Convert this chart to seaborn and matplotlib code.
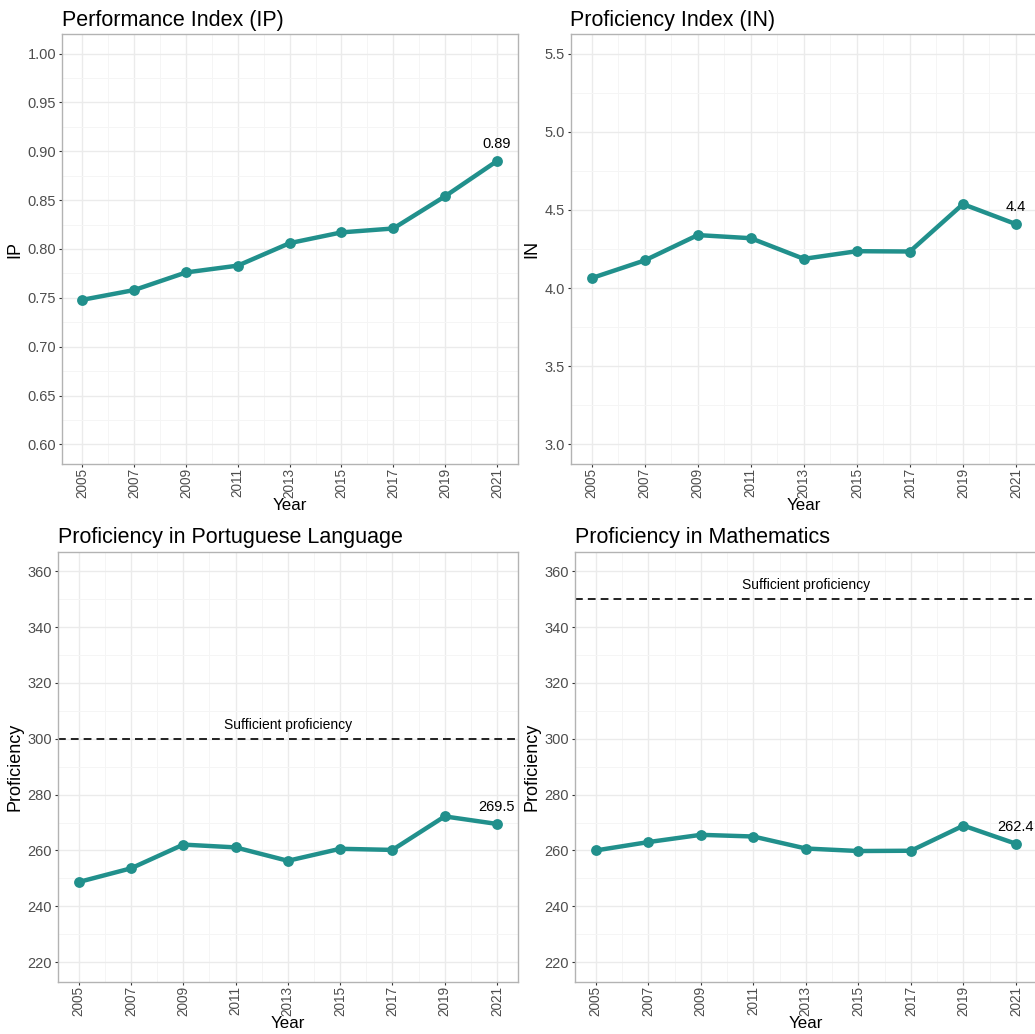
import matplotlib
matplotlib.use("Agg")
import matplotlib.pyplot as plt
from matplotlib.ticker import MultipleLocator, FixedLocator
import seaborn as sns
import pandas as pd

sns.set_theme(style="white")
plt.rcParams["font.family"] = ["Liberation Sans", "DejaVu Sans"]

years = [2005, 2007, 2009, 2011, 2013, 2015, 2017, 2019, 2021]
ip_values = [0.748, 0.758, 0.776, 0.783, 0.806, 0.817, 0.821, 0.854, 0.890]
in_values = [4.064, 4.177, 4.339, 4.319, 4.187, 4.236, 4.234, 4.537, 4.409]
port_values = [248.7, 253.6, 262.1, 261.1, 256.3, 260.6, 260.2, 272.2, 269.5]
math_values = [260.0, 263.0, 265.6, 265.0, 260.7, 259.8, 259.9, 268.9, 262.4]

ip_label = "0.89"
in_label = "4.4"
port_label = "269.5"
math_label = "262.4"

port_threshold = 300
math_threshold = 350
threshold_text = "Sufficient proficiency"

LINE_COLOR = "#21908C"
W, H = 1035, 1034

fig = plt.figure(figsize=(W / 100, H / 100), dpi=100)
fig.patch.set_facecolor("white")


def make_axes(left, right, top, bottom):
    return fig.add_axes([left / W, 1 - bottom / H, (right - left) / W, (bottom - top) / H])


def style_axes(ax, ymin, ymax, ystep, fmt, title, ylabel):
    ax.set_facecolor("white")
    ax.set_xlim(2004.2, 2021.8)
    pad = (ymax - ymin) * 0.05
    ax.set_ylim(ymin - pad, ymax + pad)
    ax.xaxis.set_minor_locator(FixedLocator([y + 1 for y in years[:-1]]))
    ax.yaxis.set_minor_locator(MultipleLocator(ystep / 2))
    ax.set_xticks(years)
    ax.set_xticklabels([str(y) for y in years], rotation=90)
    ticks = [ymin + i * ystep for i in range(int(round((ymax - ymin) / ystep)) + 1)]
    ax.set_yticks(ticks)
    ax.set_yticklabels([fmt.format(t) for t in ticks])
    ax.grid(which="major", color="#EBEBEB", linewidth=1.0)
    ax.grid(which="minor", color="#F5F5F5", linewidth=0.7)
    ax.set_axisbelow(True)
    ax.tick_params(axis="y", which="major", labelsize=10.5, labelcolor="#4D4D4D",
                   length=2.5, width=0.8, color="#333333", pad=1.5, direction="out", left=True)
    ax.tick_params(axis="x", which="major", labelsize=9.8, labelcolor="#4D4D4D",
                   length=2.2, width=0.8, color="#333333", pad=0.8, direction="out", bottom=True)
    ax.tick_params(which="minor", length=0)
    for s in ax.spines.values():
        s.set_color("#B3B3B3")
        s.set_linewidth(1.0)
    ax.set_title(title, loc="left", fontsize=15.5, color="black", pad=6)
    ax.set_xlabel("Year", fontsize=12.2, color="black", labelpad=0)
    ax.set_ylabel(ylabel, fontsize=13, color="black", labelpad=3)


def draw_series(ax, values, label):
    df = pd.DataFrame({"Year": years, "Value": values})
    sns.lineplot(data=df, x="Year", y="Value", ax=ax, color=LINE_COLOR,
                 linewidth=3.2, marker="o", markersize=7.8, markeredgewidth=0)
    ax.annotate(label, (years[-1], values[-1]), xytext=(0, 7), textcoords="offset points",
                ha="center", va="bottom", fontsize=10.5, color="black")


def draw_threshold(ax, value):
    ax.axhline(value, color="#222222", linewidth=1.4, linestyle=(0, (4, 2.6)))
    ax.annotate(threshold_text, (2013, value), xytext=(0, 5), textcoords="offset points",
                ha="center", va="bottom", fontsize=10, color="black")


ax1 = make_axes(61.6, 517.7, 34, 464)
draw_series(ax1, ip_values, ip_label)
style_axes(ax1, 0.60, 1.00, 0.05, "{:.2f}", "Performance Index (IP)", "IP")

ax2 = make_axes(570.5, 1037.2, 34, 464)
draw_series(ax2, in_values, in_label)
style_axes(ax2, 3.0, 5.5, 0.5, "{:.1f}", "Proficiency Index (IN)", "IN")

ax3 = make_axes(57.8, 517.9, 551.7, 981.7)
draw_threshold(ax3, port_threshold)
draw_series(ax3, port_values, port_label)
style_axes(ax3, 220, 360, 20, "{:.0f}", "Proficiency in Portuguese Language", "Proficiency")

ax4 = make_axes(574.7, 1037, 551.7, 981.7)
draw_threshold(ax4, math_threshold)
draw_series(ax4, math_values, math_label)
style_axes(ax4, 220, 360, 20, "{:.0f}", "Proficiency in Mathematics", "Proficiency")

fig.savefig("out.png", dpi=100, facecolor="white")
